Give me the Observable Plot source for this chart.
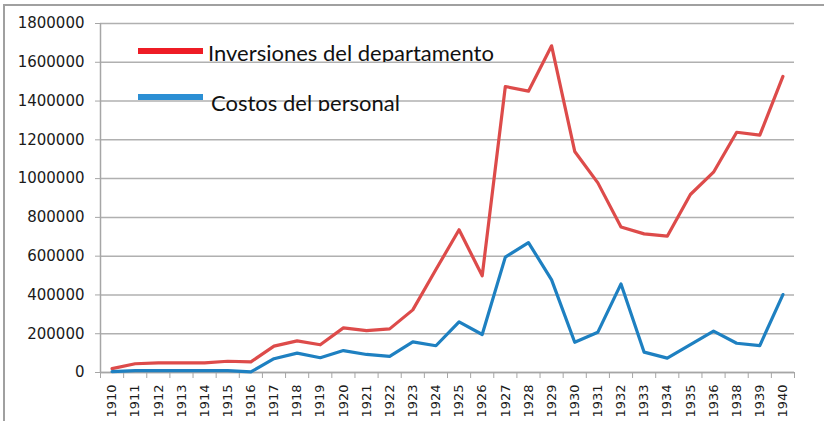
<!DOCTYPE html>
<html><head><meta charset="utf-8">
<script src="https://cdn.jsdelivr.net/npm/d3@7"></script>
<script src="https://cdn.jsdelivr.net/npm/@observablehq/plot@0.6"></script>
<style>
body{margin:0;background:#fff;}
#wrap{position:relative;width:824px;height:421px;overflow:hidden;background:#fff;}
#frame{position:absolute;left:3px;top:4px;width:900px;height:500px;border-left:2px solid #a0a0a0;border-top:2px solid #a0a0a0;pointer-events:none;}
.sw{position:absolute;height:6px;width:65px;}
.lt{position:absolute;overflow:hidden;height:24px;width:320px;font-family:Lato,"Noto Sans",sans-serif;font-size:22px;color:#111;}
.lt span{position:absolute;left:0;bottom:-2.5px;line-height:22px;white-space:nowrap;}
</style></head>
<body>
<div id="wrap"><div id="chart"></div>
<div id="frame"></div>
<div class="sw" style="left:138px;top:48px;background:#ee1c25"></div>
<div class="lt" style="left:208px;top:37px;height:24.7px"><span id="l1"></span></div>
<div class="sw" style="left:138px;top:94px;background:#2b8fd4"></div>
<div class="lt" style="left:211px;top:86px;height:25.3px"><span id="l2"></span></div>
</div>
<script>
const years = ["1910","1911","1912","1913","1914","1915","1916","1917","1918","1919","1920","1921","1922","1923","1924","1925","1926","1927","1928","1929","1930","1931","1932","1933","1934","1935","1936","1938","1939","1940"];
const inversiones = [20000,45000,50000,50000,50000,58000,55000,136000,163000,143000,230000,216000,225000,323000,531000,736000,499000,1475000,1451000,1685000,1140000,978000,750000,715000,703000,918000,1033000,1239000,1224000,1527000];
const costos = [5000,10000,10000,10000,10000,10000,3000,71000,100000,76000,113000,93000,83000,158000,138000,261000,196000,595000,670000,478000,156000,208000,457000,105000,74000,144000,213000,151000,139000,402000];
const seriesNames = ["Inversiones del departamento","Costos del personal"];
const yTicks = d3.range(0, 1800001, 200000);

document.getElementById("l1").textContent = seriesNames[0];
document.getElementById("l2").textContent = seriesNames[1];

const idx = d3.range(years.length);
const bounds = d3.range(years.length + 1).map(i => i - 0.5);
const rows = idx.map(i => ({i, inv: inversiones[i], cos: costos[i]}));

const chart = Plot.plot({
  width: 824, height: 421,
  marginLeft: 100, marginRight: 30, marginTop: 23, marginBottom: 49,
  style: {fontFamily: "DejaVu Sans", fontSize: "15px", color: "#1a1a1a", background: "transparent"},
  x: {type: "linear", domain: [-0.5, years.length - 0.5]},
  y: {domain: [0, 1800000]},
  marks: [
    Plot.gridY(yTicks, {stroke: "#b0b0b0", strokeOpacity: 1, strokeWidth: 1.5}),
    Plot.ruleY([0], {stroke: "#a6a6a6", strokeWidth: 1.5}),
    Plot.ruleX([-0.5], {y1: 0, y2: 1800000, stroke: "#a6a6a6", strokeWidth: 1.5}),
    Plot.axisY({ticks: yTicks, tickSize: 5, tickPadding: 11, stroke: "#a6a6a6", tickFormat: d => String(d), label: null, fontSize: 15}),
    Plot.axisX({ticks: bounds, tickSize: 6, tickFormat: () => "", stroke: "#a6a6a6", label: null}),
    Plot.axisX({ticks: idx, tickSize: 0, tickPadding: 12, tickRotate: -90, tickFormat: i => years[i], label: null, fontSize: 13}),
    Plot.line(rows, {x: "i", y: "inv", stroke: "#dd4b4a", strokeWidth: 3.2}),
    Plot.line(rows, {x: "i", y: "cos", stroke: "#1e80c1", strokeWidth: 3.2})
  ]
});
document.getElementById("chart").appendChild(chart);
</script>
</body></html>
